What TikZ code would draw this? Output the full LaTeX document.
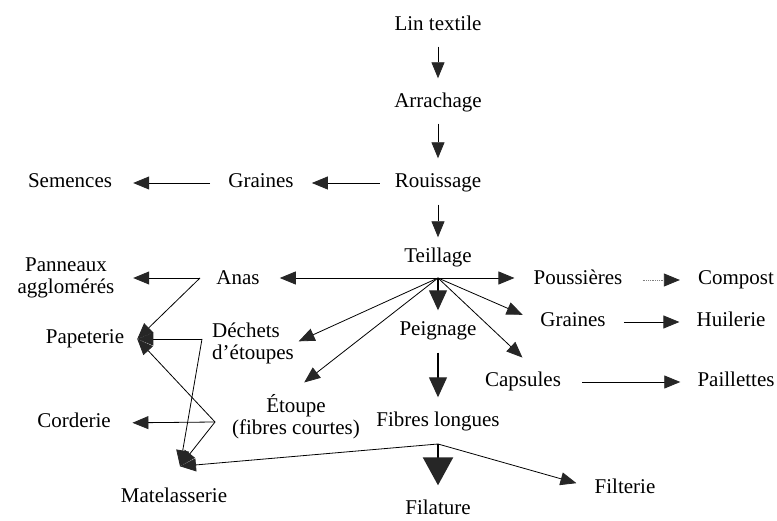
\documentclass[tikz,border=0pt]{standalone}
\usepackage{fontspec}
\setmainfont{Liberation Serif}
\usetikzlibrary{arrows.meta}

\begin{document}
\begin{tikzpicture}[x=1pt, y=-1pt,
    lbl/.style={font=\fontsize{21}{22}\selectfont, inner sep=1pt,
                text height=14.5pt, text depth=4.5pt, anchor=base},
    box/.style={font=\fontsize{21}{22}\selectfont, inner sep=1pt},
    arr/.style={line width=0.8pt,
                -{Triangle[length=16pt, width=13pt, color=black!85]}},
    bigarr/.style={line width=1.2pt,
                -{Triangle[length=20pt, width=18pt, color=black!85]}}]
  \useasboundingbox (0,0) rectangle (777,521);

  % Main stages
  \node[lbl] (lin) at (438,31) {Lin textile};
  \node[lbl] (arrach) at (438,108) {Arrachage};
  \node[lbl] (rouis) at (438,188) {Rouissage};
  \node[lbl] (teil) at (438,263) {Teillage};
  \node[lbl] (peign) at (438,336) {Peignage};
  \node[lbl] (fibl) at (438,427) {Fibres longues};
  \node[lbl] (filat) at (438,514) {Filature};

  % Products
  \node[lbl] (grain1) at (261,188) {Graines};
  \node[lbl] (semen) at (70,188) {Semences};
  \node[lbl] (anas) at (238,285) {Anas};
  \node[lbl] (pouss) at (578,285) {Poussières};
  \node[lbl] (compost) at (736,285) {Compost};
  \node[lbl] (grain2) at (573,327) {Graines};
  \node[lbl] (huile) at (731,327) {Huilerie};
  \node[lbl] (caps) at (523,387) {Capsules};
  \node[lbl] (paill) at (736,387) {Paillettes};
  \node[lbl] (filt) at (625,493) {Filterie};
  \node[box, align=left, anchor=west] (dech) at (211,343) {Déchets\\d’étoupes};
  \node[box, align=center] (etou) at (296,417) {Étoupe\\(fibres courtes)};

  % Uses
  \node[box, align=center] (pann) at (66,278) {Panneaux\\agglomérés};
  \node[lbl] (papet) at (85,344) {Papeterie};
  \node[lbl] (cord) at (74,428) {Corderie};
  \node[lbl] (matel) at (174,502) {Matelasserie};

  % Junction points
  \coordinate (hub) at (438,278);
  \coordinate (jFib) at (438,444);
  \coordinate (jAnas) at (200,278);
  \coordinate (jDech) at (202,339);
  \coordinate (jEtou) at (215,422);
  \coordinate (papIn) at ([xshift=12pt]papet.east);
  \coordinate (matIn) at ([shift={(6pt,20pt)}]matel.north);

  % Main line
  \draw[arr, shorten <=10pt, shorten >=14pt] (lin.south) -- (arrach.north);
  \draw[arr, shorten <=10pt, shorten >=14pt] (arrach.south) -- (rouis.north);
  \draw[arr, shorten <=11pt, shorten >=10pt] (rouis.south) -- (teil.north);
  \draw[arr, shorten <=14pt, shorten >=17pt] (rouis.west) -- (grain1.east);
  \draw[arr, shorten <=17pt, shorten >=20pt] (grain1.west) -- (semen.east);

  % Teillage
  \draw[arr, shorten >=19pt] (hub) -- (hub -| anas.east);
  \draw[arr, shorten >=18pt] (hub) -- (hub -| pouss.west);
  \draw[bigarr, shorten >=10pt] (hub) -- (peign.north);
  \draw[arr, shorten >=4pt] (hub) -- (dech.east);
  \draw[arr, shorten >=18pt] (hub) -- ([xshift=-6pt]etou.north);
  \draw[arr, shorten >=18pt] (hub) -- (grain2.west);
  \draw[arr, shorten >=20pt] (hub) -- ([xshift=14pt]caps.north);
  \draw[arr, densely dotted, gray, shorten <=19pt, shorten >=17pt]
    (pouss.east) -- (compost.west);
  \draw[arr, shorten <=17pt, shorten >=16pt] (grain2.east) -- (huile.west);
  \draw[arr, shorten <=20pt, shorten >=16pt] (caps.east) -- (paill.west);

  % Peignage
  \draw[bigarr, shorten <=11pt, shorten >=14pt] (peign.south) -- (fibl.north);
  \draw[line width=2.5pt, -{Triangle[length=28pt, width=30pt, color=black!85]},
    shorten >=13pt] (jFib) -- (filat.north);
  \draw[arr, shorten >=17.7pt] (jFib) -- (filt.west);
  \draw[arr] (jFib) -- (matIn);

  % Anas, dechets, etoupe
  \draw[arr, shorten >=17.6pt] (jAnas) -- (pann.east);
  \draw[arr] (jAnas) -- (papIn);
  \draw[arr] (jDech) -- (papIn);
  \draw[arr] (jDech) -- (matIn);
  \draw[arr, shorten >=20.5pt] (jEtou) -- (cord.east);
  \draw[arr] (jEtou) -- (papIn);
  \draw[arr] (jEtou) -- (matIn);
\end{tikzpicture}
\end{document}
